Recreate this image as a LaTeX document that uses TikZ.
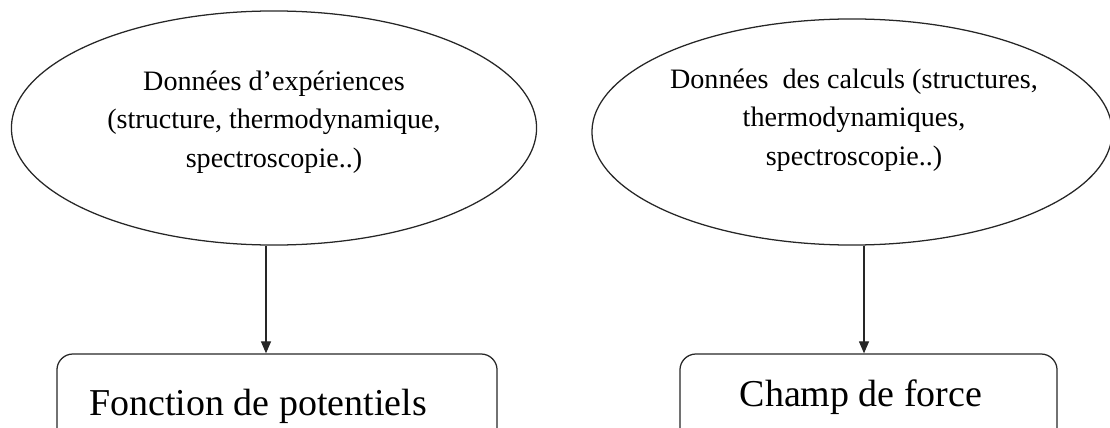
\documentclass[tikz,border=0pt]{standalone}
\usepackage{fontspec}
\setmainfont{Liberation Serif}
\usepackage{tikz}
\usetikzlibrary{arrows.meta,calc,shapes.geometric}

\begin{document}
\begin{tikzpicture}[x=0.025cm, y=-0.025cm,
  bulle/.style={draw=black!85, line width=0.9pt, ellipse, inner sep=0pt},
  boite/.style={draw=black!85, line width=0.9pt, rounded corners=0.4cm, inner sep=0pt},
  texte/.style={font=\fontsize{20}{27.4}\selectfont, align=center, inner sep=0pt},
  titre/.style={font=\fontsize{27}{32}\selectfont, inner sep=0pt, anchor=base},
  fleche/.style={draw=black!85, line width=0.9pt, -{Triangle[length=0.3cm,width=0.25cm]}}]
\clip (0,0) rectangle (1110,427);
% les deux sources de donnees
\node[bulle, minimum width=13.125cm, minimum height=5.85cm] (exp) at (274,128) {};
\node[texte] (texp) at (274,122) {Données d'expériences\\(structure, thermodynamique,\\spectroscopie..)};
\node[bulle, minimum width=13cm, minimum height=5.65cm] (calc) at (852,132) {};
\node[texte] (tcalc) at (854,120) {Données \ des calculs (structures,\\thermodynamiques,\\spectroscopie..)};
% les resultats
\node[boite, minimum width=11cm, minimum height=2.5cm] (pot) at (277,404) {};
\node[titre] (tpot) at (258,415) {Fonction de potentiels};
\node[boite, minimum width=9.425cm, minimum height=2.5cm] (champ) at (868.5,404) {};
\node[titre] (tchamp) at (861,406) {Champ de force};
% fleches
\draw[fleche] ($(exp.south)+(-8,0)$) -- ($(pot.north)+(-11,0)$);
\draw[fleche] ($(calc.south)+(12,0)$) -- ($(champ.north)+(-4.5,0)$);
\end{tikzpicture}
\end{document}
